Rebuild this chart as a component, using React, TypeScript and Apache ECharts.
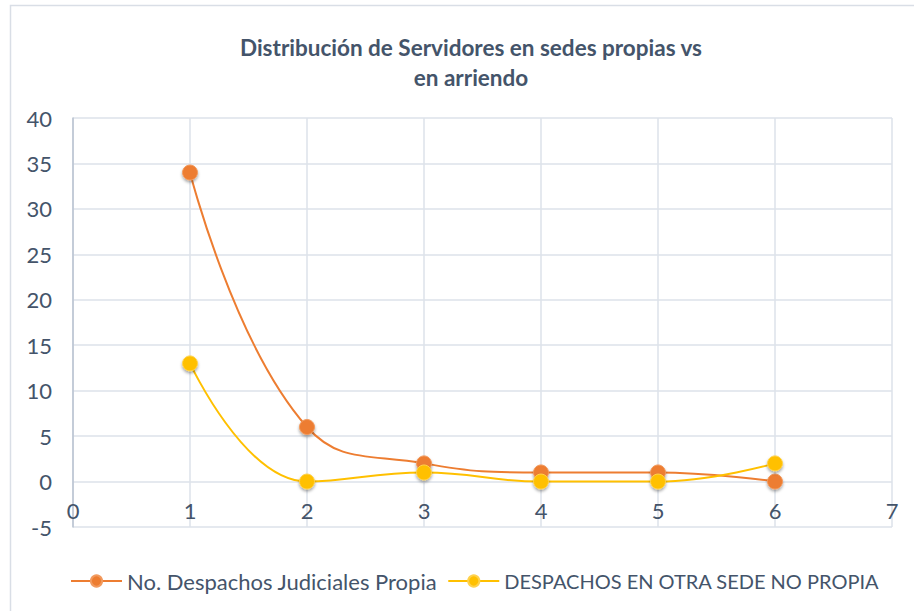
import React, { useEffect, useRef } from "react";
import * as echarts from "echarts";

const xValues = [1, 2, 3, 4, 5, 6];
const seriesNames = ["No. Despachos Judiciales Propia", "DESPACHOS EN OTRA SEDE NO PROPIA"];
const propia = [34, 6, 2, 1, 1, 0];
const noPropia = [13, 0, 1, 0, 0, 2];
const titleText = "Distribución de Servidores en sedes propias vs\nen arriendo";

const FONT = "Lato, 'Open Sans', sans-serif";
const TXT = "#44546A";
const GRID = "#DDE2EA";

export default function App() {
  const ref = useRef<HTMLDivElement>(null);
  useEffect(() => {
    const chart = echarts.init(ref.current!, null, { renderer: "svg" });
    const mk = (name: string, vals: number[], color: string, border: string) => ({
      name,
      type: "line",
      data: xValues.map((x, i) => [x, vals[i]]),
      smooth: 0.45,
      symbol: "circle",
      symbolSize: 15,
      lineStyle: { color, width: 2 },
      itemStyle: {
        color,
        borderColor: border,
        borderWidth: 1,
        shadowBlur: 3,
        shadowColor: "rgba(0,0,0,0.35)",
        shadowOffsetY: 2,
      },
    });
    chart.setOption({
      animation: false,
      textStyle: { fontFamily: FONT },
      graphic: [
        {
          type: "rect",
          shape: { x: 10.5, y: 5.5, width: 920, height: 620 },
          style: { fill: "none", stroke: "#D9DEE6", lineWidth: 1.5 },
          silent: true,
        },
      ],
      title: {
        text: titleText,
        left: 466,
        top: 27,
        textAlign: "center",
        textStyle: { fontFamily: FONT, fontSize: 22.5, fontWeight: "bold", color: TXT, lineHeight: 30 },
      },
      legend: {
        left: 65,
        top: 565,
        width: 880,
        orient: "horizontal",
        itemWidth: 51,
        itemHeight: 14,
        itemGap: 10,
        textStyle: { fontFamily: FONT, fontSize: 22, color: TXT },
        data: [
          { name: seriesNames[0] },
          { name: seriesNames[1], textStyle: { fontSize: 20 } },
        ],
      },
      grid: { left: 73, right: 22, top: 118, bottom: 84, containLabel: false },
      xAxis: {
        type: "value",
        position: "bottom",
        offset: -46,
        min: 0,
        max: 7,
        interval: 1,
        axisLine: { show: false, onZero: false },
        axisTick: { show: false },
        axisLabel: { fontFamily: FONT, fontSize: 22, color: TXT, margin: 18 },
        splitLine: { show: true, lineStyle: { color: GRID, width: 1.5 } },
      },
      yAxis: {
        type: "value",
        min: -5,
        max: 40,
        interval: 5,
        axisLine: { show: true, onZero: false, lineStyle: { color: "#B8C2D0", width: 1.5 } },
        axisTick: { show: false },
        axisLabel: { fontFamily: FONT, fontSize: 22, color: TXT, margin: 21 },
        splitLine: { show: true, lineStyle: { color: GRID, width: 1.5 } },
      },
      series: [
        mk(seriesNames[0], propia, "#ED7D31", "#F29A5E"),
        mk(seriesNames[1], noPropia, "#FFC000", "#FFD24D"),
      ],
    });
    return () => chart.dispose();
  }, []);
  return (
    <div
      ref={ref}
      style={{ position: "fixed", left: 0, top: 0, width: 914, height: 611, background: "#fff" }}
    />
  );
}
